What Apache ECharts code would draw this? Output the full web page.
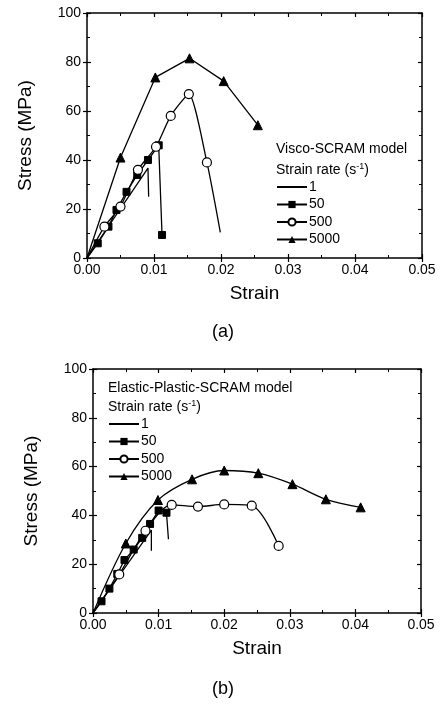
<!DOCTYPE html>
<html>
<head>
<meta charset="utf-8">
<script src="https://cdn.jsdelivr.net/npm/echarts@6/dist/echarts.min.js"></script>
<style>
html,body{margin:0;padding:0;background:#fff;}
#chart{width:441px;height:705px;}
</style>
</head>
<body>
<div id="chart"></div>
<script>
// ---- Data (strain, stress MPa) ----
// (a) Visco-SCRAM model
var aStrain1 = [0, 0.0091, 0.0092];
var aStress1 = [0, 36.7, 25];
var aStrain50 = [0, 0.0016, 0.0032, 0.0044, 0.0059, 0.0075, 0.0091, 0.0107, 0.0112];
var aStress50 = [0, 6, 12.8, 19.6, 27, 33.9, 40, 46, 9.4];
var aStrain500 = [0, 0.0026, 0.0050, 0.0076, 0.0103, 0.0125, 0.0152, 0.0179, 0.0199];
var aStress500 = [0, 12.8, 21, 36, 45.4, 58, 66.9, 39, 10.5];
var aStrain5000 = [0, 0.0050, 0.0102, 0.0153, 0.0204, 0.0255];
var aStress5000 = [0, 41, 73.7, 81.5, 72.2, 54.2];
// (b) Elastic-Plastic-SCRAM model
var bStrain1 = [0, 0.0089, 0.0089];
var bStress1 = [0, 34, 25.5];
var bStrain50 = [0, 0.0013, 0.0025, 0.0037, 0.0048, 0.0062, 0.0075, 0.0087, 0.0100, 0.0112, 0.0115];
var bStress50 = [0, 4.8, 10, 16, 21.7, 26, 30.8, 36.5, 42, 41.1, 30.2];
var bStrain500 = [0, 0.0040, 0.0080, 0.0120, 0.0160, 0.0200, 0.0242, 0.0283];
var bStress500 = [0, 15.8, 33.7, 44.3, 43.6, 44.5, 44, 27.5];
var bStrain5000 = [0, 0.0050, 0.0099, 0.0151, 0.0200, 0.0252, 0.0304, 0.0355, 0.0408];
var bStress5000 = [0, 28.5, 46.3, 54.8, 58.4, 57.3, 52.8, 46.6, 43.3];

var xTicks = [0, 0.01, 0.02, 0.03, 0.04, 0.05];
var yTicks = [0, 20, 40, 60, 80, 100];
var seriesNames = ['1', '50', '500', '5000'];
var panelTitles = ['Visco-SCRAM model', 'Elastic-Plastic-SCRAM model'];
var panelLabels = ['(a)', '(b)'];
var xName = 'Strain';
var yName = 'Stress (MPa)';

function pairs(xs, ys, noSymbolIdx) {
  return xs.map(function (x, i) {
    var d = { value: [x, ys[i]] };
    if (noSymbolIdx.indexOf(i) >= 0) d.symbol = 'none';
    return d;
  });
}

var FONT = 'Liberation Sans, Arial, sans-serif';
var black = '#000';

var grids = [
  { left: 87, top: 13, width: 335, height: 245 },
  { left: 93, top: 369, width: 328, height: 244 }
];

var xAxes = [], yAxes = [];
grids.forEach(function (g, gi) {
  var common = { type: 'value', gridIndex: gi, min: 0, max: 0.05, interval: 0.01 };
  xAxes.push(Object.assign({}, common, {
    position: 'bottom',
    name: xName, nameLocation: 'middle', nameGap: 26,
    nameTextStyle: { fontFamily: FONT, fontSize: 19, color: black },
    axisLine: { show: true, onZero: false, lineStyle: { color: black, width: 1.5 } },
    axisTick: { show: true, inside: false, length: 4, lineStyle: { color: black, width: 1.2 } },
    axisLabel: { show: true, margin: 5, fontFamily: FONT, fontSize: 14, color: black,
      formatter: function (v) { return v.toFixed(2); } },
    splitLine: { show: false }
  }));
  xAxes.push(Object.assign({}, common, {
    position: 'bottom',
    axisLine: { show: false, onZero: false },
    axisTick: { show: true, inside: true, length: 4, lineStyle: { color: black, width: 1.2 } },
    minorTick: { show: true, splitNumber: 2, length: 3, lineStyle: { color: black, width: 1 } },
    axisLabel: { show: false }, splitLine: { show: false }
  }));
  xAxes.push(Object.assign({}, common, {
    position: 'top',
    axisLine: { show: true, onZero: false, lineStyle: { color: black, width: 1.5 } },
    axisTick: { show: true, inside: true, length: 4, lineStyle: { color: black, width: 1.2 } },
    minorTick: { show: true, splitNumber: 2, length: 3, lineStyle: { color: black, width: 1 } },
    axisLabel: { show: false }, splitLine: { show: false }
  }));
  var ycommon = { type: 'value', gridIndex: gi, min: 0, max: 100, interval: 20 };
  yAxes.push(Object.assign({}, ycommon, {
    position: 'left',
    name: yName, nameLocation: 'middle', nameGap: 52, nameRotate: 90,
    nameTextStyle: { fontFamily: FONT, fontSize: 19, color: black },
    axisLine: { show: true, onZero: false, lineStyle: { color: black, width: 1.5 } },
    axisTick: { show: true, inside: false, length: 4, lineStyle: { color: black, width: 1.2 } },
    axisLabel: { show: true, margin: 6, fontFamily: FONT, fontSize: 14, color: black },
    splitLine: { show: false }
  }));
  yAxes.push(Object.assign({}, ycommon, {
    position: 'left',
    axisLine: { show: false, onZero: false },
    axisTick: { show: true, inside: true, length: 4, lineStyle: { color: black, width: 1.2 } },
    minorTick: { show: true, splitNumber: 2, length: 3, lineStyle: { color: black, width: 1 } },
    axisLabel: { show: false }, splitLine: { show: false }
  }));
  yAxes.push(Object.assign({}, ycommon, {
    position: 'right',
    axisLine: { show: true, onZero: false, lineStyle: { color: black, width: 1.5 } },
    axisTick: { show: true, inside: true, length: 4, lineStyle: { color: black, width: 1.2 } },
    minorTick: { show: true, splitNumber: 2, length: 3, lineStyle: { color: black, width: 1 } },
    axisLabel: { show: false }, splitLine: { show: false }
  }));
});

var styles = {
  '1': { symbol: 'circle', symbolSize: 1, showSymbol: false, itemStyle: { color: black } },
  '50': { symbol: 'rect', symbolSize: 7, showSymbol: true, itemStyle: { color: black, borderColor: black } },
  '500': { symbol: 'circle', symbolSize: 9, showSymbol: true, itemStyle: { color: '#fff', borderColor: black, borderWidth: 1.2 } },
  '5000': { symbol: 'triangle', symbolSize: 9, showSymbol: true, itemStyle: { color: black, borderColor: black } }
};

function mkSeries(name, gi, data, smooth) {
  var s = styles[name];
  return {
    type: 'line', name: name, xAxisIndex: gi * 3, yAxisIndex: gi * 3,
    data: data, symbol: s.symbol, symbolSize: s.symbolSize, showSymbol: s.showSymbol,
    smooth: smooth || false,
    lineStyle: { color: black, width: 1.3 },
    itemStyle: s.itemStyle,
    animation: false, z: 3
  };
}

var series = [
  mkSeries('1', 0, pairs(aStrain1, aStress1, [])),
  mkSeries('50', 0, pairs(aStrain50, aStress50, [0])),
  mkSeries('500', 0, pairs(aStrain500, aStress500, [0, 8]), 0.2),
  mkSeries('5000', 0, pairs(aStrain5000, aStress5000, [0])),
  mkSeries('1', 1, pairs(bStrain1, bStress1, [])),
  mkSeries('50', 1, pairs(bStrain50, bStress50, [0, 10])),
  mkSeries('500', 1, pairs(bStrain500, bStress500, [0]), 0.3),
  mkSeries('5000', 1, pairs(bStrain5000, bStress5000, [0]), 0.3)
];

function mkLegend(left, top) {
  return {
    orient: 'vertical', left: left, top: top,
    data: seriesNames.map(function (n) {
      return n === '1'
        ? { name: n, itemStyle: { opacity: 0, color: 'rgba(0,0,0,0)', borderColor: 'rgba(0,0,0,0)' } }
        : { name: n };
    }),
    itemWidth: 30, itemHeight: 9, itemGap: 3.5,
    selectedMode: false, padding: 0,
    textStyle: { fontFamily: FONT, fontSize: 14, color: black, padding: [0, 0, 0, -3], lineHeight: 14 }
  };
}

function txt(x, y, text, size) {
  return {
    type: 'text', left: x, top: y,
    style: {
      text: text, font: size + 'px ' + FONT, fill: black,
      rich: { sup: { fontSize: 9, verticalAlign: 'top', fill: black, fontFamily: FONT, padding: [0, 0, 8, 0] } }
    }
  };
}

var option = {
  backgroundColor: '#fff',
  animation: false,
  grid: grids,
  xAxis: xAxes,
  yAxis: yAxes,
  legend: [mkLegend(276, 180), mkLegend(108, 417)],
  series: series,
  graphic: [
    txt(276, 142, panelTitles[0], 14),
    txt(276, 162, 'Strain rate (s{sup|-1})', 14),
    txt(108, 381, panelTitles[1], 14),
    txt(108, 399, 'Strain rate (s{sup|-1})', 14),
    { type: 'text', left: 212, top: 323, style: { text: panelLabels[0], font: '18px ' + FONT, fill: black } },
    { type: 'text', left: 212, top: 680, style: { text: panelLabels[1], font: '18px ' + FONT, fill: black } }
  ]
};

var chart = echarts.init(document.getElementById('chart'), null, { renderer: 'canvas' });
chart.setOption(option);
</script>
</body>
</html>
